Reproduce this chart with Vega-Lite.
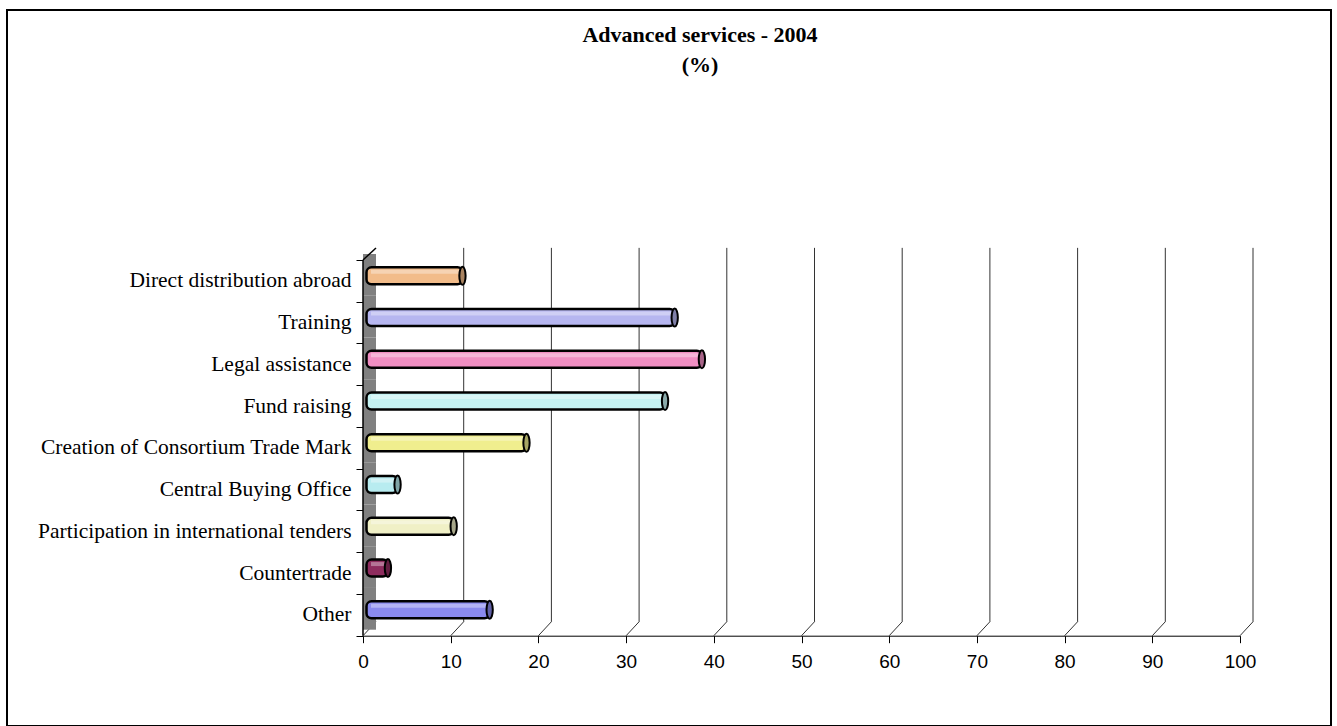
{
  "$schema": "https://vega.github.io/schema/vega-lite/v6.json",
  "width": 1324,
  "height": 716,
  "padding": {"left": 7, "top": 10, "right": 6, "bottom": 0},
  "autosize": {"type": "none"},
  "background": "white",
  "config": {
    "view": {"stroke": "black", "strokeWidth": 2},
    "axisX": {
      "offset": -90.3,
      "grid": false,
      "domainColor": "black",
      "domainWidth": 1,
      "tickColor": "black",
      "tickSize": 7,
      "tickWidth": 1,
      "tickCount": 10,
      "labelFont": "Liberation Sans",
      "labelFontSize": 19,
      "labelColor": "black",
      "labelPadding": 10,
      "labelFlush": false
    },
    "axisY": {
      "offset": -356,
      "grid": false,
      "domain": false,
      "tickBand": "extent",
      "tickSize": 7,
      "tickColor": "black",
      "tickWidth": 1,
      "labelFont": "Liberation Serif",
      "labelFontSize": 21.5,
      "labelColor": "black",
      "labelPadding": 5,
      "labelLimit": 400
    }
  },
  "title": {
    "text": ["Advanced services - 2004", "(%)"],
    "font": "Liberation Serif",
    "fontSize": 22,
    "fontWeight": "bold",
    "color": "black",
    "anchor": "middle",
    "frame": "group",
    "baseline": "alphabetic",
    "offset": -95,
    "dx": 31,
    "lineHeight": 30
  },
  "datasets": {
    "services": [
      {"service": "Direct distribution abroad", "pct": 10.6},
      {"service": "Training", "pct": 34.8},
      {"service": "Legal assistance", "pct": 37.9},
      {"service": "Fund raising", "pct": 33.7},
      {"service": "Creation of Consortium Trade Mark", "pct": 17.9},
      {"service": "Central Buying Office", "pct": 3.2},
      {"service": "Participation in international tenders", "pct": 9.6},
      {"service": "Countertrade ", "pct": 2.1},
      {"service": "Other", "pct": 13.7}
    ],
    "ticks": [
      {"v": 0}, {"v": 10}, {"v": 20}, {"v": 30}, {"v": 40}, {"v": 50},
      {"v": 60}, {"v": 70}, {"v": 80}, {"v": 90}, {"v": 100}
    ]
  },
  "layer": [
    {
      "data": {"name": "ticks"},
      "transform": [{"filter": "datum.v > 0"}],
      "mark": {"type": "rule", "color": "#333333", "strokeWidth": 1, "xOffset": 13, "yOffset": -33, "y2Offset": 7},
      "encoding": {
        "x": {"field": "v", "type": "quantitative", "scale": {"domain": [0, 100], "range": [356, 1233]}, "axis": {"title": null}},
        "y": {"datum": "Direct distribution abroad", "type": "nominal", "axis": {"title": null}},
        "y2": {"datum": "Other"}
      }
    },
    {
      "data": {"name": "ticks"},
      "mark": {"type": "rule", "color": "#333333", "strokeWidth": 1, "yOffset": 20.9, "x2Offset": 13, "y2Offset": 6.9},
      "encoding": {
        "x": {"field": "v", "type": "quantitative", "axis": {"title": null}},
        "x2": {"field": "v"},
        "y": {"datum": "Other", "type": "nominal", "axis": {"title": null}},
        "y2": {"datum": "Other"}
      }
    },
    {
      "data": {"name": "services"},
      "mark": {"type": "rect", "fill": "#808080", "x2Offset": 13, "yOffset": -6},
      "encoding": {
        "y": {
          "field": "service",
          "type": "nominal",
          "sort": null,
          "scale": {
            "domain": ["Direct distribution abroad", "Training", "Legal assistance", "Fund raising", "Creation of Consortium Trade Mark", "Central Buying Office", "Participation in international tenders", "Countertrade ", "Other"],
            "range": [250, 625.7],
            "paddingInner": 0,
            "paddingOuter": 0
          },
          "axis": {"title": null}
        },
        "x": {"datum": 0, "type": "quantitative", "axis": {"title": null}},
        "x2": {"datum": 0}
      }
    },
    {
      "data": {"values": [{}]},
      "mark": {"type": "rule", "color": "black", "strokeWidth": 1.5, "yOffset": -20.9, "y2Offset": 20.9},
      "encoding": {
        "x": {"datum": 0, "type": "quantitative", "axis": {"title": null}},
        "y": {"datum": "Direct distribution abroad", "type": "nominal", "axis": {"title": null}},
        "y2": {"datum": "Other"}
      }
    },
    {
      "data": {"values": [{}]},
      "mark": {"type": "rule", "color": "black", "strokeWidth": 1.5, "yOffset": -20.9, "x2Offset": 13, "y2Offset": -32.9},
      "encoding": {
        "x": {"datum": 0, "type": "quantitative", "axis": {"title": null}},
        "x2": {"datum": 0},
        "y": {"datum": "Direct distribution abroad", "type": "nominal", "axis": {"title": null}},
        "y2": {"datum": "Direct distribution abroad"}
      }
    },
    {
      "data": {"name": "services"},
      "mark": {"type": "bar", "height": 17, "cornerRadius": 5, "stroke": "black", "strokeWidth": 2.5, "xOffset": 6.5, "x2Offset": 3.5, "yOffset": -5},
      "encoding": {
        "y": {"field": "service", "type": "nominal", "sort": null, "axis": {"title": null}},
        "x": {"field": "pct", "type": "quantitative", "axis": {"title": null}},
        "x2": {"datum": 0},
        "color": {
          "field": "service",
          "type": "nominal",
          "scale": {
            "domain": ["Direct distribution abroad", "Training", "Legal assistance", "Fund raising", "Creation of Consortium Trade Mark", "Central Buying Office", "Participation in international tenders", "Countertrade ", "Other"],
            "range": ["#F2BC8A", "#B6B6F0", "#F08EC2", "#C4F2F2", "#F0EE8E", "#B8ECF0", "#F0F0C6", "#8E2C5E", "#8A8AEE"]
          },
          "legend": null
        }
      }
    },
    {
      "data": {"name": "services"},
      "mark": {"type": "bar", "height": 4, "fill": "white", "fillOpacity": 0.35, "xOffset": 3, "x2Offset": 8, "yOffset": -9},
      "encoding": {
        "y": {"field": "service", "type": "nominal", "sort": null, "axis": {"title": null}},
        "x": {"field": "pct", "type": "quantitative", "axis": {"title": null}},
        "x2": {"datum": 0}
      }
    },
    {
      "data": {"name": "services"},
      "mark": {"type": "point", "shape": "M0,-1A0.35,1,0,1,1,0,1A0.35,1,0,1,1,0,-1Z", "size": 324, "filled": true, "opacity": 1, "stroke": "black", "strokeWidth": 2, "xOffset": 6.5, "yOffset": -5},
      "encoding": {
        "y": {"field": "service", "type": "nominal", "sort": null, "axis": {"title": null}},
        "x": {"field": "pct", "type": "quantitative", "axis": {"title": null}},
        "color": {"field": "service", "type": "nominal", "legend": null}
      }
    },
    {
      "data": {"name": "services"},
      "mark": {"type": "point", "shape": "M0,-1A0.35,1,0,1,1,0,1A0.35,1,0,1,1,0,-1Z", "size": 300, "filled": true, "fill": "black", "fillOpacity": 0.3, "strokeWidth": 0, "xOffset": 6.5, "yOffset": -5},
      "encoding": {
        "y": {"field": "service", "type": "nominal", "sort": null, "axis": {"title": null}},
        "x": {"field": "pct", "type": "quantitative", "axis": {"title": null}}
      }
    }
  ]
}
